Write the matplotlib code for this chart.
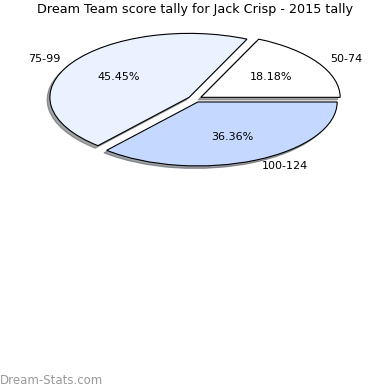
import matplotlib
matplotlib.use("Agg")
import matplotlib.pyplot as plt

title = "Dream Team score tally for Jack Crisp - 2015 tally"
categories = ["50-74", "75-99", "100-124"]
values = [18.18, 45.45, 36.36]
colors = ["#ffffff", "#eaf1ff", "#c5d8ff"]

fig = plt.figure(figsize=(3.9, 3.9), dpi=100)
ax = fig.add_axes([0.0, 0.541, 1.0, 0.41])
ax.pie(values, labels=categories, colors=colors, explode=[0.05] * 3,
       autopct="%.2f%%", startangle=0, counterclock=True,
       shadow={"ox": -0.014, "oy": -0.028},
       labeldistance=1.1, pctdistance=0.6,
       wedgeprops=dict(edgecolor="black", linewidth=0.8),
       textprops=dict(fontsize=8))
ax.set_aspect("auto")
ax.set_xlim(-1.4, 1.4)
ax.set_ylim(-1.25, 1.25)
ax.axis("off")

fig.text(0.5, 1 - 10 / 390, title, ha="center", va="center", fontsize=9.2)
fig.text(0.0, 1 - 380 / 390, "Dream-Stats.com", ha="left", va="center",
         fontsize=8.5, color="#999999")

fig.savefig("out.png", dpi=100)
